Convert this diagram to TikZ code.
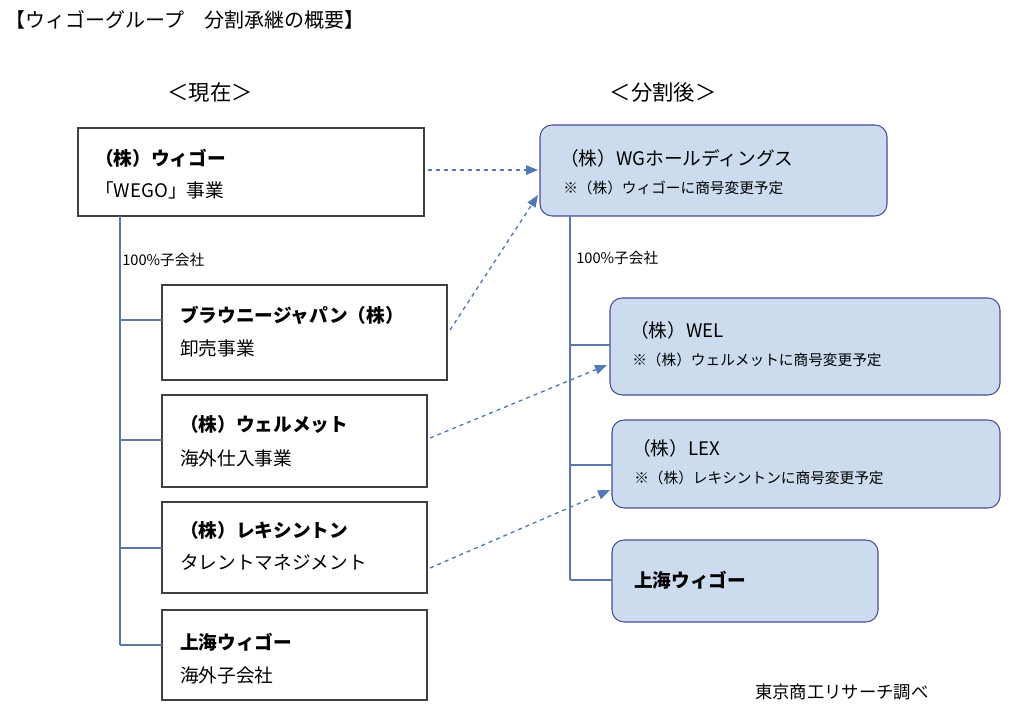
\documentclass[tikz,border=0pt]{standalone}
\usepackage{fontspec}
\setmainfont{Noto Sans CJK JP}
\usetikzlibrary{arrows.meta}
\begin{document}
\begin{tikzpicture}[x=0.75pt,y=-0.75pt,
  lbox/.style={draw=black!75,line width=0.8pt},
  rbox/.style={draw=blue!45!black!70,fill={rgb,255:red,204;green,219;blue,238},line width=0.8pt,rounded corners=9pt},
  tree/.style={draw={rgb,255:red,90;green,120;blue,170},line width=1pt},
  darr/.style={draw={rgb,255:red,80;green,120;blue,180},line width=1pt,dashed,-{Triangle[length=9pt,width=7pt]}},
  t/.style={anchor=west,font=\fontsize{14}{16}\selectfont,inner sep=0},
  tb/.style={t,font=\fontsize{14}{16}\selectfont\bfseries},
  s/.style={anchor=west,font=\fontsize{11}{13}\selectfont,inner sep=0}]
\useasboundingbox (0,0) rectangle (1024,716);
\node[anchor=west,inner sep=0,font=\fontsize{15}{17}\selectfont] (title) at (5,20) {【ウィゴーグループ\quad 分割承継の概要】};
\node[font=\fontsize{16}{18}\selectfont] (h1) at (210,92) {＜現在＞};
\node[font=\fontsize{16}{18}\selectfont] (h2) at (663,92) {＜分割後＞};
% left boxes
\draw[lbox] (78,128) rectangle (424,216);
\node[tb] (a1) at (95,158) {（株）ウィゴー};
\node[t] (a2) at (95,190) {「WEGO」事業};
\draw[lbox] (162,285) rectangle (447,380);
\node[tb] (b1) at (180,315) {ブラウニージャパン（株）};
\node[t] (b2) at (180,348) {卸売事業};
\draw[lbox] (162,395) rectangle (427,487);
\node[tb] (c1) at (180,424) {（株）ウェルメット};
\node[t] (c2) at (180,458) {海外仕入事業};
\draw[lbox] (162,502) rectangle (427,593);
\node[tb] (d1) at (180,530) {（株）レキシントン};
\node[t] (d2) at (180,562) {タレントマネジメント};
\draw[lbox] (162,610) rectangle (427,700);
\node[tb] (e1) at (180,642) {上海ウィゴー};
\node[t] (e2) at (180,675) {海外子会社};
\draw[tree] (120,216) -- (120,645) (120,320) -- (162,320) (120,440) -- (162,440) (120,548) -- (162,548) (120,645) -- (162,645);
\node[s] (p1) at (122,260) {100\%子会社};
% right boxes
\draw[rbox] (540,125) rectangle (887,216);
\node[t] (f1) at (560,158) {（株）WGホールディングス};
\node[s] (f2) at (563,188) {※（株）ウィゴーに商号変更予定};
\draw[rbox] (610,298) rectangle (1000,395);
\node[t] (g1) at (630,330) {（株）WEL};
\node[s] (g2) at (632,360) {※（株）ウェルメットに商号変更予定};
\draw[rbox] (612,420) rectangle (1000,508);
\node[t] (h1b) at (632,448) {（株）LEX};
\node[s] (h2b) at (634,478) {※（株）レキシントンに商号変更予定};
\draw[rbox] (612,540) rectangle (878,622);
\node[tb] (i1) at (634,580) {上海ウィゴー};
\draw[tree] (570,216) -- (570,580) (570,345) -- (610,345) (570,465) -- (612,465) (570,580) -- (612,580);
\node[s] (p2) at (576,258) {100\%子会社};
% arrows
\coordinate (s1) at (428,170); \coordinate (t1) at (538,170);
\coordinate (s2) at (450,330); \coordinate (t2) at (538,195);
\coordinate (s3) at (430,438); \coordinate (t3) at (607,365);
\coordinate (s4) at (430,568); \coordinate (t4) at (610,490);
\draw[darr] (s1) -- (t1);
\draw[darr] (s2) -- (t2);
\draw[darr] (s3) -- (t3);
\draw[darr] (s4) -- (t4);
\node[anchor=west,inner sep=0,font=\fontsize{13}{15}\selectfont] (src) at (755,692) {東京商工リサーチ調べ};
\end{tikzpicture}
\end{document}
